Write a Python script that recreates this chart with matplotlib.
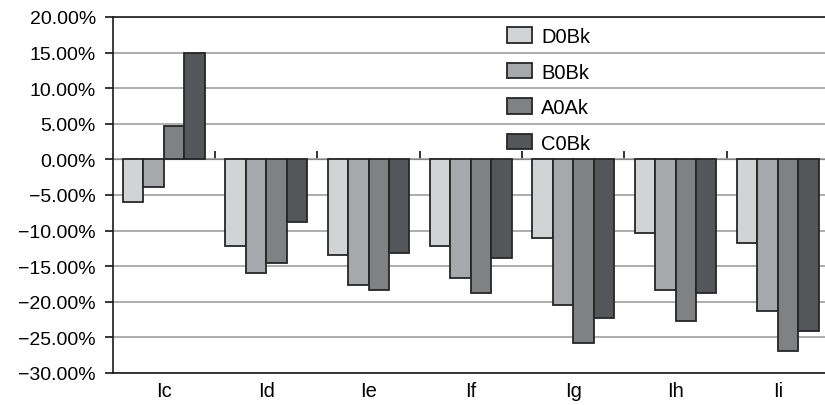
import matplotlib.pyplot as plt
import numpy as np
from matplotlib.ticker import FuncFormatter

plt.rcParams['font.family'] = ['Liberation Sans', 'DejaVu Sans']

# Percentage change per group and series
groups = ['Ic', 'Id', 'Ie', 'If', 'Ig', 'Ih', 'Ii']
series = ['D0Bk', 'B0Bk', 'A0Ak', 'C0Bk']
d0bk = [-6.0, -12.1, -13.4, -12.1, -11.0, -10.4, -11.7]
b0bk = [-3.9, -15.95, -17.7, -16.65, -20.5, -18.4, -21.3]
a0ak = [4.65, -14.6, -18.4, -18.8, -25.8, -22.65, -26.95]
c0bk = [15.0, -8.8, -13.2, -13.8, -22.3, -18.8, -24.05]
colors = ['#d2d3d5', '#a7a8ab', '#808183', '#55565a']

fig = plt.figure(figsize=(8.25, 4.06), dpi=100)
ax = fig.add_axes([112.7 / 825, 32 / 406, (829 - 112.7) / 825, 356 / 406])

x = np.arange(len(groups))
width = 0.2
for i, (name, vals) in enumerate(zip(series, [d0bk, b0bk, a0ak, c0bk])):
    ax.bar(x + (i - 1.5) * width, vals, width, color=colors[i],
           edgecolor='#262626', linewidth=1.3, label=name, zorder=3)

ax.set_ylim(-30, 20)
ax.set_xlim(-0.5, len(groups) - 0.5)
ax.set_yticks(np.arange(-30, 21, 5))
ax.yaxis.set_major_formatter(FuncFormatter(lambda v, p: '{:.2f}%'.format(v).replace('-', '\u2212')))
ax.yaxis.grid(True, color='#a0a0a0', linewidth=1.2, zorder=0)
ax.set_axisbelow(True)
ax.tick_params(axis='y', length=6, width=1.1, pad=6, labelsize=14)
ax.set_xticks(x)
ax.set_xticklabels(groups)
ax.tick_params(axis='x', length=0, pad=6, labelsize=14.5)

for side in ['left', 'top', 'bottom']:
    ax.spines[side].set_linewidth(1.2)
    ax.spines[side].set_color('#1a1a1a')
ax.spines['right'].set_visible(False)

# small separators between groups on the zero line
sec = ax.secondary_xaxis(30 / 50)
sec.set_xticks(np.arange(0.5, len(groups) - 0.5, 1))
sec.set_xticklabels([])
sec.tick_params(axis='x', direction='out', length=6, width=1.1)
sec.spines['bottom'].set_visible(False)

ax.legend(loc='upper left', bbox_to_anchor=(507 / 825, 1 - 28 / 406),
          bbox_transform=fig.transFigure, frameon=False, fontsize=14.5,
          handlelength=1.25, handleheight=0.8, handletextpad=0.45,
          labelspacing=0.82, borderpad=0, borderaxespad=0)

fig.savefig('out.png', dpi=100)
